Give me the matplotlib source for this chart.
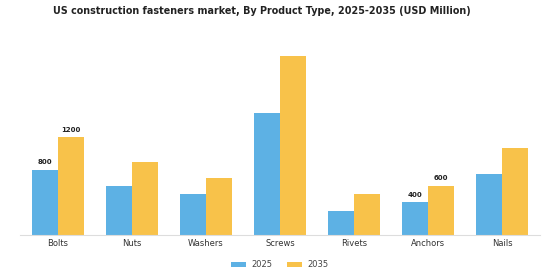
import matplotlib
matplotlib.use("Agg")
import matplotlib.pyplot as plt
import numpy as np

categories = ["Bolts", "Nuts", "Washers", "Screws", "Rivets", "Anchors", "Nails"]
values_2025 = [800, 600, 500, 1500, 300, 400, 750]
values_2035 = [1200, 900, 700, 2200, 500, 600, 1075]
series_labels = ["2025", "2035"]
annotated = {"Bolts", "Anchors"}

c25 = "#5DB1E4"
c35 = "#F8C24A"

fig = plt.figure(figsize=(5.6, 2.8), dpi=100)
ax = fig.add_axes([0.036, 0.161, 0.928, 0.696])
x = np.arange(len(categories))
w = 0.35
b1 = ax.bar(x - w/2, values_2025, w, color=c25, label=series_labels[0])
b2 = ax.bar(x + w/2, values_2035, w, color=c35, label=series_labels[1])

for i, cat in enumerate(categories):
    if cat in annotated:
        ax.text(x[i] - w/2, values_2025[i] + 60, str(values_2025[i]), ha="center", va="bottom",
                fontsize=5, fontweight="bold", color="#222222")
        ax.text(x[i] + w/2, values_2035[i] + 60, str(values_2035[i]), ha="center", va="bottom",
                fontsize=5, fontweight="bold", color="#222222")

ax.set_xlim(-0.51, 6.51)
ax.set_ylim(0, 2400)
ax.set_xticks(x)
ax.set_xticklabels(categories, fontsize=6, color="#333333")
ax.tick_params(axis="x", length=0, pad=3)
ax.set_yticks([])
for s in ["top", "right", "left"]:
    ax.spines[s].set_visible(False)
ax.spines["bottom"].set_color("#dddddd")
ax.spines["bottom"].set_linewidth(0.8)

fig.text(0.467, 0.96, "US construction fasteners market, By Product Type, 2025-2035 (USD Million)",
         ha="center", va="center", fontsize=6.9, fontweight="bold", color="#222222")

fig.legend(handles=[b1, b2], labels=series_labels, loc="center", bbox_to_anchor=(0.5, 0.054),
           ncol=2, frameon=False, fontsize=6, handlelength=1.7, handleheight=0.5,
           handletextpad=0.7, columnspacing=1.8, labelcolor="#444444")

fig.savefig("out.png", dpi=100, facecolor="white")
